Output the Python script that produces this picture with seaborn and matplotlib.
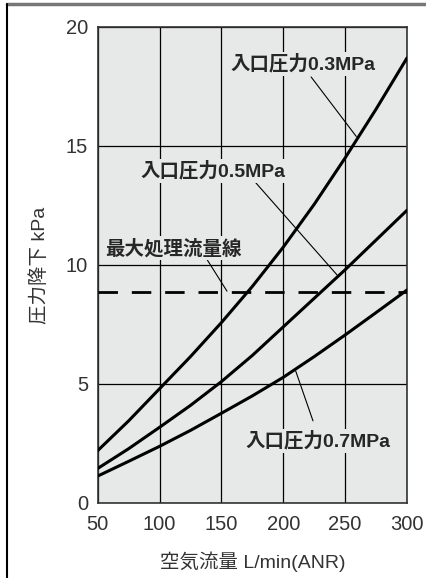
import seaborn as sns
import matplotlib.pyplot as plt
import pandas as pd

# values
flow = [50, 75, 100, 125, 150, 175, 200, 225, 250, 275, 300]
drop_03 = [2.2, 3.45, 4.8, 6.15, 7.58, 9.1, 10.75, 12.55, 14.5, 16.55, 18.7]
drop_05 = [1.45, 2.28, 3.18, 4.1, 5.1, 6.2, 7.4, 8.6, 9.8, 11.05, 12.3]
drop_07 = [1.13, 1.75, 2.38, 3.05, 3.77, 4.5, 5.28, 6.15, 7.06, 8.0, 8.95]
max_flow_line = 8.85

x_ticks = [50, 100, 150, 200, 250, 300]
y_ticks = [0, 5, 10, 15, 20]

labels = ["入口圧力0.3MPa", "入口圧力0.5MPa", "入口圧力0.7MPa", "最大処理流量線"]
# text centre, leader start, leader end (data coords)
label_text_pos = [(216, 18.45), (143, 13.95), (228, 2.6), (111.5, 10.7)]
leader_start = [(222.5, 17.9), (177, 13.5), (224, 3.45), (137.5, 10.3)]
leader_end = [(259, 15.4), (244, 9.55), (210, 5.55), (154.5, 8.9)]

n = len(flow)
df = pd.DataFrame({
    "flow": flow * 3,
    "drop": drop_03 + drop_05 + drop_07,
    "series": ["0.3"] * n + ["0.5"] * n + ["0.7"] * n,
})

sns.set_style("white")
fam = ["Liberation Sans", "Noto Sans CJK JP", "DejaVu Sans"]
plt.rcParams["font.family"] = fam

bg = "#e7e8e8"
fig = plt.figure(figsize=(4.27, 5.78), dpi=100)
ax = fig.add_axes([0.2288, 0.1298, 0.7244, 0.8235])
ax.set_facecolor(bg)

sns.lineplot(data=df, x="flow", y="drop", units="series", estimator=None,
             color="black", linewidth=2.2, ax=ax, zorder=3)
ax.axhline(max_flow_line, color="black", linewidth=2, dashes=(7, 5), zorder=3)

ax.set_xlim(50, 300)
ax.set_ylim(0, 20)
ax.set_xticks(x_ticks)
ax.set_yticks(y_ticks)
ax.grid(True, color="black", linewidth=0.9)
ax.set_axisbelow(True)
ax.tick_params(length=0, labelsize=14.5, labelcolor="#333333")
ax.tick_params(axis="x", pad=9)
ax.tick_params(axis="y", pad=7)
for s in ax.spines.values():
    s.set_color("#333333")
    s.set_linewidth(1.2)

ax.set_xlabel("空気流量 L/min(ANR)", fontsize=14, labelpad=12, color="#333333")
ax.set_ylabel("圧力降下 kPa", fontsize=14, labelpad=12, color="#333333")

for lab, tp, st, en in zip(labels, label_text_pos, leader_start, leader_end):
    ax.plot([st[0], en[0]], [st[1], en[1]], color="black", linewidth=0.8, zorder=4)
    ax.text(tp[0], tp[1], lab, ha="center", va="center", fontsize=14,
            fontweight="bold", zorder=5,
            bbox=dict(facecolor=bg, edgecolor="none", pad=1.5))

# outer frame of the figure
fig.add_artist(plt.Line2D([0.017, 1.0], [0.993, 0.993], color="#777777",
                          linewidth=2.5, transform=fig.transFigure))
fig.add_artist(plt.Line2D([0.017, 0.017], [0.0, 0.993], color="black",
                          linewidth=1.5, transform=fig.transFigure))

fig.savefig("out.png", dpi=100)
